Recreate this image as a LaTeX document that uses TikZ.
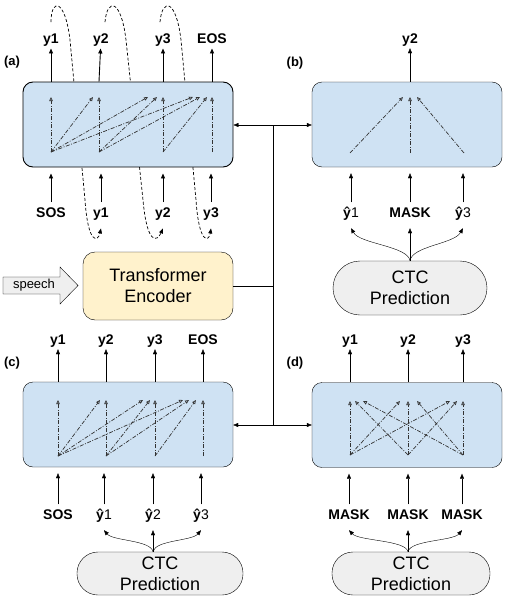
\documentclass[tikz,border=0pt]{standalone}
\usepackage{fontspec}
\setmainfont{Liberation Sans}
\usetikzlibrary{arrows.meta}
\definecolor{decblue}{HTML}{CFE2F3}
\definecolor{encyellow}{HTML}{FFF2CC}
\definecolor{ctcgray}{HTML}{EFEFEF}
\pgfdeclarelayer{background}
\pgfsetlayers{background,main}
\newcommand{\tokfont}{\fontsize{14}{16}\selectfont\bfseries}
\newcommand{\bigfont}{\fontsize{18}{21}\selectfont}
\newcommand{\yhat}[1]{ŷ{\mdseries #1}}
\tikzset{
  decbox/.style={draw=black, fill=decblue, rounded corners=10pt,
                 minimum width=210pt, minimum height=85pt, inner sep=0pt},
  encbox/.style={draw=black, fill=encyellow, rounded corners=12pt,
                 minimum width=150pt, minimum height=68pt, font=\bigfont, align=center},
  ctc/.style={draw=black, fill=ctcgray, rounded corners=21pt, minimum height=43pt,
              font=\bigfont, align=center, inner sep=1pt},
  tok/.style={font=\tokfont, inner sep=2pt, text height=10.5pt, text depth=3pt, anchor=base},
  panel/.style={font=\fontsize{13}{15}\selectfont\bfseries},
  inarr/.style={->, shorten <=2pt, shorten >=6pt},
  loopline/.style={->, dash pattern=on 3pt off 2pt, line width=0.7pt},
  attn/.style={draw=black!80, line width=0.7pt,
               dash pattern=on 4pt off 1.5pt on 1pt off 1.5pt,
               -{Triangle[open, length=4pt, width=3.5pt]}}
}
\begin{document}
\begin{tikzpicture}[x=1pt, y=-1pt, line width=0.9pt,
                    >={Triangle[length=5pt, width=4pt]}]
\useasboundingbox (0,0) rectangle (505,605);

% (a) autoregressive decoder
\node[panel] (la) at (12,62) {(a)};
\node[tok] (oa1) at (51,43) {y1};
\node[tok] (oa2) at (101,43) {y2};
\node[tok] (oa3) at (163,43) {y3};
\node[tok] (oa4) at (212,43) {EOS};
\node[tok] (ia1) at (51,217) {SOS};
\node[tok] (ia2) at (101,217) {y1};
\node[tok] (ia3) at (163,217) {y2};
\node[tok] (ia4) at (211,217) {y3};
\node[decbox] (boxA) at (128,124.5) {};
\coordinate (aT1) at (51,97);
\coordinate (aT2) at (99,97);
\coordinate (aT3) at (163,97);
\coordinate (aT4) at (212,97);
\coordinate (aB1) at (51,152);
\coordinate (aB2) at (99,152);
\coordinate (aB3) at (163,152);
\coordinate (aB4) at (212,152);
\draw[->] (boxA.north -| aT1) -- (oa1);
\draw[->] (boxA.north -| aT2) -- (oa2);
\draw[->] (boxA.north -| aT3) -- (oa3);
\draw[->] (boxA.north -| aT4) -- (oa4);
\draw[inarr] (ia1) -- (ia1 |- boxA.south);
\draw[inarr] (ia2) -- (ia2 |- boxA.south);
\draw[inarr] (ia3) -- (ia3 |- boxA.south);
\draw[inarr] (ia4) -- (ia4 |- boxA.south);
% feed each output back in as the next input, behind the box
\begin{pgfonlayer}{background}
  \draw[loopline] ([yshift=8pt]oa1.north) .. controls (51,-2) and (65,-2) .. (70,40)
    -- (85,200) .. controls (88,245) and (98,242) .. ([yshift=-6pt]ia2.south);
  \draw[loopline] ([xshift=4pt,yshift=8pt]oa2.north) .. controls (107,-2) and (121,-2) .. (126,40)
    -- (143,200) .. controls (147,245) and (157,242) .. ([yshift=-6pt]ia3.south);
  \draw[loopline] ([xshift=-3pt,yshift=8pt]oa3.north) .. controls (162,-2) and (176,-2) .. (181,40)
    -- (196,200) .. controls (199,245) and (209,242) .. ([yshift=-6pt]ia4.south);
\end{pgfonlayer}

% (b) one masked token
\node[panel] (lb) at (295,63) {(b)};
\node[tok] (ob2) at (410,43) {y2};
\node[decbox, minimum width=190pt] (boxB) at (407,124.5) {};
\coordinate (bT2) at (410,97);
\coordinate (bB1) at (350,153);
\coordinate (bB2) at (410,153);
\coordinate (bB3) at (464,153);
\node[tok] (ib1) at (351,217) {\yhat{1}};
\node[tok] (ib2) at (410,217) {MASK};
\node[tok] (ib3) at (463,217) {\yhat{3}};
\node[ctc, minimum width=154pt, minimum height=54pt, rounded corners=27pt] (ctcB) at (410,288) {CTC\\Prediction};
\draw[->] (boxB.north -| bT2) -- (ob2);
\draw[inarr] (ib1) -- (ib1 |- boxB.south);
\draw[inarr] (ib2) -- (ib2 |- boxB.south);
\draw[inarr] (ib3) -- (ib3 |- boxB.south);
\draw[->] (ctcB.north) .. controls (408,246) and (360,244) .. ([yshift=-6pt]ib1.south);
\draw[->] (ctcB.north) -- ([yshift=-6pt]ib2.south);
\draw[->] (ctcB.north) .. controls (412,246) and (454,244) .. ([yshift=-6pt]ib3.south);

% encoder and the shared trunk
\draw[fill=ctcgray] (3,277) -- (60,277) -- (60,267) -- (78,285.5) -- (60,304)
  -- (60,294) -- (3,294) -- cycle;
\node[font=\fontsize{13}{15}\selectfont] (sp) at (34,285.5) {speech};
\node[encbox] (enc) at (158,286) {Transformer\\Encoder};
\coordinate (jA) at (273,125);
\coordinate (jC) at (273,425);

% (c) autoregressive on CTC output
\node[panel] (lc) at (12,363) {(c)};
\node[tok] (oc1) at (58,344) {y1};
\node[tok] (oc2) at (106,344) {y2};
\node[tok] (oc3) at (155,344) {y3};
\node[tok] (oc4) at (203,344) {EOS};
\node[decbox] (boxC) at (128,424.5) {};
\coordinate (cT1) at (58,400);
\coordinate (cT2) at (106,400);
\coordinate (cT3) at (155,400);
\coordinate (cT4) at (203,400);
\coordinate (cB1) at (58,456);
\coordinate (cB2) at (106,456);
\coordinate (cB3) at (155,456);
\coordinate (cB4) at (203,456);
\node[tok] (ic1) at (58,519) {SOS};
\node[tok] (ic2) at (104,519) {\yhat{1}};
\node[tok] (ic3) at (153,519) {\yhat{2}};
\node[tok] (ic4) at (201,519) {\yhat{3}};
\node[ctc, minimum width=166pt] (ctcC) at (160,573.5) {CTC\\Prediction};
\draw[->] (boxC.north -| cT1) -- (oc1);
\draw[->] (boxC.north -| cT2) -- (oc2);
\draw[->] (boxC.north -| cT3) -- (oc3);
\draw[->] (boxC.north -| cT4) -- (oc4);
\draw[inarr] (ic1) -- (ic1 |- boxC.south);
\draw[inarr] (ic2) -- (ic2 |- boxC.south);
\draw[inarr] (ic3) -- (ic3 |- boxC.south);
\draw[inarr] (ic4) -- (ic4 |- boxC.south);
\draw[->] (ic3 |- ctcC.north) .. controls (151,540) and (113,541) .. ([yshift=-6pt]ic2.south);
\draw[->] (ic3 |- ctcC.north) -- ([yshift=-6pt]ic3.south);
\draw[->] (ic3 |- ctcC.north) .. controls (155,540) and (192,541) .. ([yshift=-6pt]ic4.south);

% (d) all tokens masked
\node[panel] (ld) at (295,363) {(d)};
\node[tok] (od1) at (350,344) {y1};
\node[tok] (od2) at (408,344) {y2};
\node[tok] (od3) at (463,344) {y3};
\node[decbox, minimum width=190pt] (boxD) at (407,425) {};
\coordinate (dT1) at (350,401);
\coordinate (dT2) at (408,401);
\coordinate (dT3) at (463,401);
\coordinate (dB1) at (350,455);
\coordinate (dB2) at (408,455);
\coordinate (dB3) at (463,455);
\node[tok] (id1) at (349,519) {MASK};
\node[tok] (id2) at (408,519) {MASK};
\node[tok] (id3) at (462,519) {MASK};
\node[ctc, minimum width=158pt] (ctcD) at (411,573.5) {CTC\\Prediction};
\draw[->] (boxD.north -| dT1) -- (od1);
\draw[->] (boxD.north -| dT2) -- (od2);
\draw[->] (boxD.north -| dT3) -- (od3);
\draw[inarr] (id1) -- (id1 |- boxD.south);
\draw[inarr] (id2) -- (id2 |- boxD.south);
\draw[inarr] (id3) -- (id3 |- boxD.south);
\draw[->] (id2 |- ctcD.north) .. controls (406,540) and (359,541) .. ([yshift=-6pt]id1.south);
\draw[->] (id2 |- ctcD.north) -- ([yshift=-6pt]id2.south);
\draw[->] (id2 |- ctcD.north) .. controls (410,540) and (453,541) .. ([yshift=-6pt]id3.south);

% encoder output goes to every decoder
\draw (jA) -- (jC);
\draw (enc.east) -- (enc.east -| jA);
\draw[->] (jA) -- (boxA.east |- jA);
\draw[->] (jA) -- (boxB.west |- jA);
\draw[->] (jC) -- (boxC.east |- jC);
\draw[->] (jC) -- (boxD.west |- jC);

% attention inside the decoders
\begin{scope}[every edge/.style={attn}]
    \path (aB1) edge (aT1);
    \path (aB1) edge ([xshift=-6pt]aT2);
    \path (aB2) edge (aT2);
    \path (aB1) edge ([xshift=-15pt]aT3);
    \path (aB2) edge ([xshift=-6pt]aT3);
    \path (aB3) edge (aT3);
    \path (aB1) edge ([xshift=-19pt]aT4);
    \path (aB2) edge ([xshift=-12pt]aT4);
    \path (aB3) edge ([xshift=-5pt]aT4);
    \path (aB4) edge (aT4);
    \path (bB1) edge ([xshift=-7pt]bT2);
    \path (bB2) edge (bT2);
    \path (bB3) edge ([xshift=7pt]bT2);
    \path (cB1) edge (cT1);
    \path (cB1) edge ([xshift=-6pt]cT2);
    \path (cB2) edge (cT2);
    \path (cB1) edge ([xshift=-12pt]cT3);
    \path (cB2) edge ([xshift=-5pt]cT3);
    \path (cB3) edge (cT3);
    \path (cB1) edge ([xshift=-20pt]cT4);
    \path (cB2) edge ([xshift=-14pt]cT4);
    \path (cB3) edge ([xshift=-7pt]cT4);
    \path (cB4) edge (cT4);
    \path (dB1) edge (dT1);
    \path (dB2) edge ([xshift=5pt]dT1);
    \path (dB3) edge ([xshift=13pt]dT1);
    \path (dB1) edge ([xshift=-8pt]dT2);
    \path (dB2) edge (dT2);
    \path (dB3) edge ([xshift=9pt]dT2);
    \path (dB1) edge ([xshift=-13pt]dT3);
    \path (dB2) edge ([xshift=-6pt]dT3);
    \path (dB3) edge (dT3);
\end{scope}
\end{tikzpicture}
\end{document}
